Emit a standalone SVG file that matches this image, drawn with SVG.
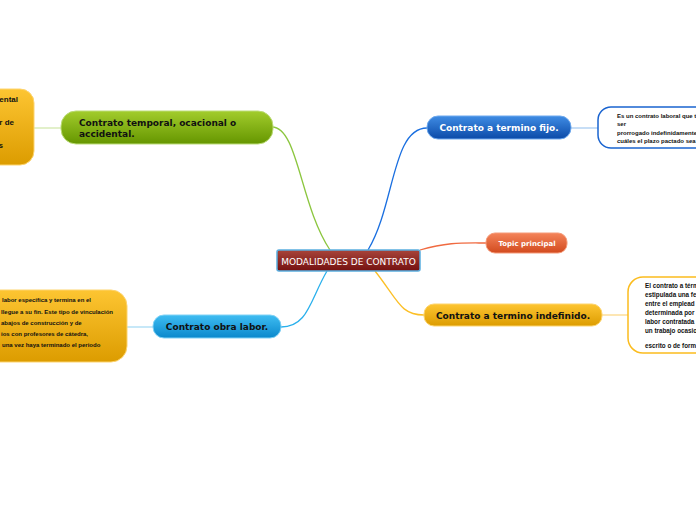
<svg xmlns="http://www.w3.org/2000/svg" width="696" height="520" viewBox="0 0 696 520">
<defs>
<linearGradient id="gGreen" x1="0" y1="0" x2="0" y2="1"><stop offset="0" stop-color="#a2cc2c"/><stop offset="1" stop-color="#659600"/></linearGradient>
<linearGradient id="gOrange" x1="0" y1="0" x2="0" y2="1"><stop offset="0" stop-color="#fdc532"/><stop offset="1" stop-color="#dc9c00"/></linearGradient>
<linearGradient id="gBlue" x1="0" y1="0" x2="0" y2="1"><stop offset="0" stop-color="#3f8ce4"/><stop offset="1" stop-color="#0b4aa8"/></linearGradient>
<linearGradient id="gCyan" x1="0" y1="0" x2="0" y2="1"><stop offset="0" stop-color="#3fbdf2"/><stop offset="1" stop-color="#0a88cc"/></linearGradient>
<linearGradient id="gRed" x1="0" y1="0" x2="0" y2="1"><stop offset="0" stop-color="#f4845a"/><stop offset="1" stop-color="#d24a1e"/></linearGradient>
<linearGradient id="gCenter" x1="0" y1="0" x2="0" y2="1"><stop offset="0" stop-color="#a8453a"/><stop offset="1" stop-color="#741010"/></linearGradient>
</defs>
<style>
.main{font-family:"DejaVu Sans",Verdana,sans-serif;font-weight:bold;font-size:9px}
.small{font-family:"Liberation Sans",Arial,sans-serif;font-weight:bold;font-size:6px;fill:#111}
.conn{fill:none;stroke-width:1.3}
</style>
<g id="connectors">
<path class="conn" d="M272,127 C298,127 300,205 330,250" stroke="#8cc63f"/>
<path class="conn" d="M368,250 C395,205 392,128 427,128" stroke="#1a6fe0"/>
<path class="conn" d="M420,250 C448,242 462,243 486,243" stroke="#f06a40"/>
<path class="conn" d="M375,271 C398,300 400,315 424,315" stroke="#fcbf26"/>
<path class="conn" d="M327,271 C310,300 308,327 281,327" stroke="#2ab0ec"/>
<path class="conn" d="M61,128 L34,128" stroke="#d2e8ae" stroke-width="2"/>
<path class="conn" d="M571,128 L598,128" stroke="#a9cdf2" stroke-width="2"/>
<path class="conn" d="M602,315 L628,315" stroke="#fcd98a" stroke-width="2"/>
<path class="conn" d="M153,327 L127,327" stroke="#a9dcf5" stroke-width="2"/>
</g>
<g id="center">
<rect x="277" y="250" width="143" height="21" rx="2" fill="url(#gCenter)" stroke="#5aaee0" stroke-width="1.5"/>
<text x="348.5" y="264.5" text-anchor="middle" style="font-family:'DejaVu Sans',Verdana,sans-serif;font-size:9px;fill:#fff">MODALIDADES DE CONTRATO</text>
</g>
<g id="temporal">
<rect x="61" y="111" width="212" height="33" rx="15" fill="url(#gGreen)" stroke="#bcdc78" stroke-width="1"/>
<text class="main" x="79" y="125.5" fill="#111">Contrato temporal, ocacional o</text>
<text class="main" x="79" y="137" fill="#111">accidental.</text>
</g>
<g id="temporal-detail">
<rect x="-20" y="89" width="54" height="76" rx="14" fill="url(#gOrange)" stroke="#fdd46e" stroke-width="1"/>
<text x="18" y="102" text-anchor="end" style="font-family:'Liberation Sans',Arial,sans-serif;font-weight:bold;font-size:8px;fill:#111">ental</text>
<text x="14" y="125" text-anchor="end" style="font-family:'Liberation Sans',Arial,sans-serif;font-weight:bold;font-size:8px;fill:#111">r de</text>
<text x="3" y="148" text-anchor="end" style="font-family:'Liberation Sans',Arial,sans-serif;font-weight:bold;font-size:8px;fill:#111">s</text>
</g>
<g id="fijo">
<rect x="427" y="116" width="144" height="23" rx="11" fill="url(#gBlue)" stroke="#6ea9ee" stroke-width="1"/>
<text class="main" x="499" y="131" text-anchor="middle" fill="#fff">Contrato a termino fijo.</text>
</g>
<g id="fijo-detail">
<rect x="598" y="107" width="120" height="41" rx="13" fill="#fff" stroke="#1a64d0" stroke-width="1.5"/>
<text class="small" x="617" y="118">Es un contrato laboral que t</text>
<text class="small" x="617" y="126">ser</text>
<text class="small" x="617" y="135">prorrogado indefinidamente</text>
<text class="small" x="617" y="143">cuáles el plazo pactado sea</text>
</g>
<g id="topic">
<rect x="486" y="233" width="81" height="20" rx="9" fill="url(#gRed)" stroke="#f59a78" stroke-width="1"/>
<text x="527" y="246" text-anchor="middle" style="font-family:'DejaVu Sans',Verdana,sans-serif;font-weight:bold;font-size:7px;fill:#fff">Topic principal</text>
</g>
<g id="indefinido">
<rect x="424" y="304" width="178" height="22" rx="10" fill="url(#gOrange)" stroke="#fdd46e" stroke-width="1"/>
<text class="main" x="513" y="319" text-anchor="middle" fill="#111">Contrato a termino indefinido.</text>
</g>
<g id="indefinido-detail">
<rect x="628" y="277" width="90" height="76" rx="15" fill="#fff" stroke="#fbbc1e" stroke-width="1.5"/>
<text class="small" x="645" y="288" style="font-size:6.3px">El contrato a térm</text>
<text class="small" x="645" y="297" style="font-size:6.3px">estipulada una fe</text>
<text class="small" x="645" y="306" style="font-size:6.3px">entre el emplead</text>
<text class="small" x="645" y="315" style="font-size:6.3px">determinada por</text>
<text class="small" x="645" y="324" style="font-size:6.3px">labor contratada</text>
<text class="small" x="645" y="333" style="font-size:6.3px">un trabajo ocasio</text>
<text class="small" x="645" y="348" style="font-size:6.3px">escrito o de form</text>
</g>
<g id="obra">
<rect x="153" y="315" width="128" height="23" rx="11" fill="url(#gCyan)" stroke="#80d2f6" stroke-width="1"/>
<text class="main" x="217" y="330" text-anchor="middle" fill="#111">Contrato obra labor.</text>
</g>
<g id="obra-detail">
<rect x="-20" y="290" width="147" height="72" rx="16" fill="url(#gOrange)" stroke="#fdd46e" stroke-width="1"/>
<text class="small" x="2" y="302">labor específica y termina en el</text>
<text class="small" x="1" y="314">llegue a su fin. Este tipo de vinculación</text>
<text class="small" x="1" y="325">abajos de construcción y de</text>
<text class="small" x="1" y="336">ios con profesores de cátedra,</text>
<text class="small" x="2" y="347">una vez haya terminado el periodo</text>
</g>
</svg>
